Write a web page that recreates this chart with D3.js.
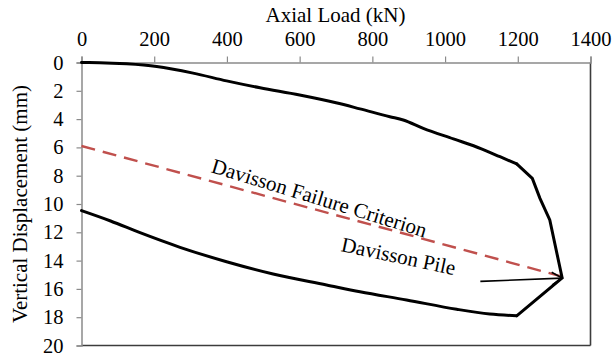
<!DOCTYPE html>
<html><head><meta charset="utf-8">
<script src="https://cdn.jsdelivr.net/npm/d3@7"></script>
<style>body{margin:0;background:#fff}svg{display:block}text{font-family:"Liberation Serif","Times New Roman",serif;fill:#000}</style>
</head><body>
<svg id="c" width="612" height="359"></svg>
<script>
// Data
const loadingP = [0, 50, 124, 207, 307, 399, 491, 600, 700, 766, 848, 885, 940, 1023, 1100, 1151, 1197, 1240, 1261, 1288, 1322];
const loadingS = [0, 0.01, 0.09, 0.28, 0.75, 1.3, 1.79, 2.3, 2.85, 3.28, 3.83, 4.06, 4.65, 5.4, 6.1, 6.66, 7.17, 8.19, 9.6, 11.13, 15.22];
const unloadP = [1322, 1197, 1123, 1032, 894, 766, 674, 527, 399, 271, 161, 80, 0];
const unloadS = [15.22, 17.9, 17.77, 17.44, 16.78, 16.2, 15.72, 14.95, 14.08, 13.06, 12.03, 11.2, 10.47];
const davissonP = [0, 1339];
const davissonS = [5.9, 15.25];
const arrowP = [1097, 1322];
const arrowS = [15.47, 15.24];
const xTicks = [0, 200, 400, 600, 800, 1000, 1200, 1400];
const yTicks = [0, 2, 4, 6, 8, 10, 12, 14, 16, 18, 20];
const labels = ["Davisson Failure Criterion", "Davisson Pile"];

const svg = d3.select("#c");
const L = 81.5, R = 590.5, T = 62.5, B = 345.5;
const x = d3.scaleLinear().domain([0, 1400]).range([L, R]);
const y = d3.scaleLinear().domain([0, 20]).range([T, B]);

// plot frame (right/bottom darker)
svg.append("line").attr("x1", R).attr("x2", R).attr("y1", T).attr("y2", B).attr("stroke", "#3c3c3c").attr("stroke-width", 1.6);
svg.append("line").attr("x1", L).attr("x2", R).attr("y1", B).attr("y2", B).attr("stroke", "#3c3c3c").attr("stroke-width", 1.6);

// axes
const xAxis = d3.axisTop(x).tickValues(xTicks).tickFormat(d3.format("d")).tickSize(6).tickPadding(11);
const gx = svg.append("g").attr("transform", `translate(0,${T})`).call(xAxis);
gx.select(".domain").attr("stroke", "#8a8a8a").attr("stroke-width", 1.5);
gx.selectAll(".tick line").attr("stroke", "#8a8a8a").attr("stroke-width", 1.2);
gx.selectAll(".tick text").attr("font-size", 20.5).attr("font-family", "Liberation Serif").attr("fill", "#000");

const yAxis = d3.axisLeft(y).tickValues(yTicks).tickFormat(d3.format("d")).tickSize(5).tickPadding(13);
const gy = svg.append("g").attr("transform", `translate(${L},0)`).call(yAxis);
gy.select(".domain").attr("stroke", "#8a8a8a").attr("stroke-width", 1.5);
gy.selectAll(".tick line").attr("stroke", "#8a8a8a").attr("stroke-width", 1.2);
gy.selectAll(".tick text").attr("font-size", 20.5).attr("font-family", "Liberation Serif").attr("fill", "#000");

// titles
svg.append("text").attr("x", (L + R) / 2 - 0.5).attr("y", 21.5).attr("text-anchor", "middle")
  .attr("font-size", 21).text("Axial Load (kN)");
svg.append("text").attr("transform", `translate(26.5,${(T + B) / 2}) rotate(-90)`).attr("text-anchor", "middle")
  .attr("font-size", 21).text("Vertical Displacement (mm)");

const line = d3.line().x(d => x(d[0])).y(d => y(d[1]));
const smooth = d3.line().x(d => x(d[0])).y(d => y(d[1])).curve(d3.curveMonotoneX);

// Davisson criterion
svg.append("path").datum(davissonP.map((p, i) => [p, davissonS[i]]))
  .attr("d", line).attr("fill", "none").attr("stroke", "#C0504D").attr("stroke-width", 2.4)
  .attr("stroke-dasharray", "14,8");

// load-displacement curve: smooth loading, straight near failure, smooth unloading
const load = loadingP.map((p, i) => [p, loadingS[i]]);
const unload = unloadP.map((p, i) => [p, unloadS[i]]);
const k = loadingP.indexOf(1197);
const parts = [
  { d: load.slice(0, k + 1), g: smooth },
  { d: load.slice(k).concat([unload[1]]), g: line },
  { d: unload.slice(1).slice().reverse(), g: smooth }
];
parts.forEach(pt => svg.append("path").datum(pt.d).attr("d", pt.g).attr("fill", "none").attr("stroke", "#000")
  .attr("stroke-width", 3).attr("stroke-linejoin", "miter").attr("stroke-linecap", "round"));

// labels
const a1 = [354, 7.74], a2 = [711.7, 13.32];
svg.append("text").attr("transform", `translate(${x(a1[0])},${y(a1[1])}) rotate(17)`).attr("font-size", 21).text(labels[0]);
svg.append("text").attr("transform", `translate(${x(a2[0])},${y(a2[1])}) rotate(12)`).attr("font-size", 21).text(labels[1]);

// arrow
const ax0 = x(arrowP[0]), ay0 = y(arrowS[0]), ax1 = x(arrowP[1]), ay1 = y(arrowS[1]);
svg.append("line").attr("x1", ax0).attr("y1", ay0).attr("x2", ax1).attr("y2", ay1).attr("stroke", "#000").attr("stroke-width", 1.6);
const ang = Math.atan2(ay1 - ay0, ax1 - ax0), hl = 12, ha = 0.55;
svg.append("path").attr("d", `M${ax1 - hl * Math.cos(ang - ha)},${ay1 - hl * Math.sin(ang - ha)} L${ax1},${ay1} L${ax1 - hl * Math.cos(ang + ha)},${ay1 - hl * Math.sin(ang + ha)}`)
  .attr("fill", "none").attr("stroke", "#000").attr("stroke-width", 1.6);
</script>
</body></html>
